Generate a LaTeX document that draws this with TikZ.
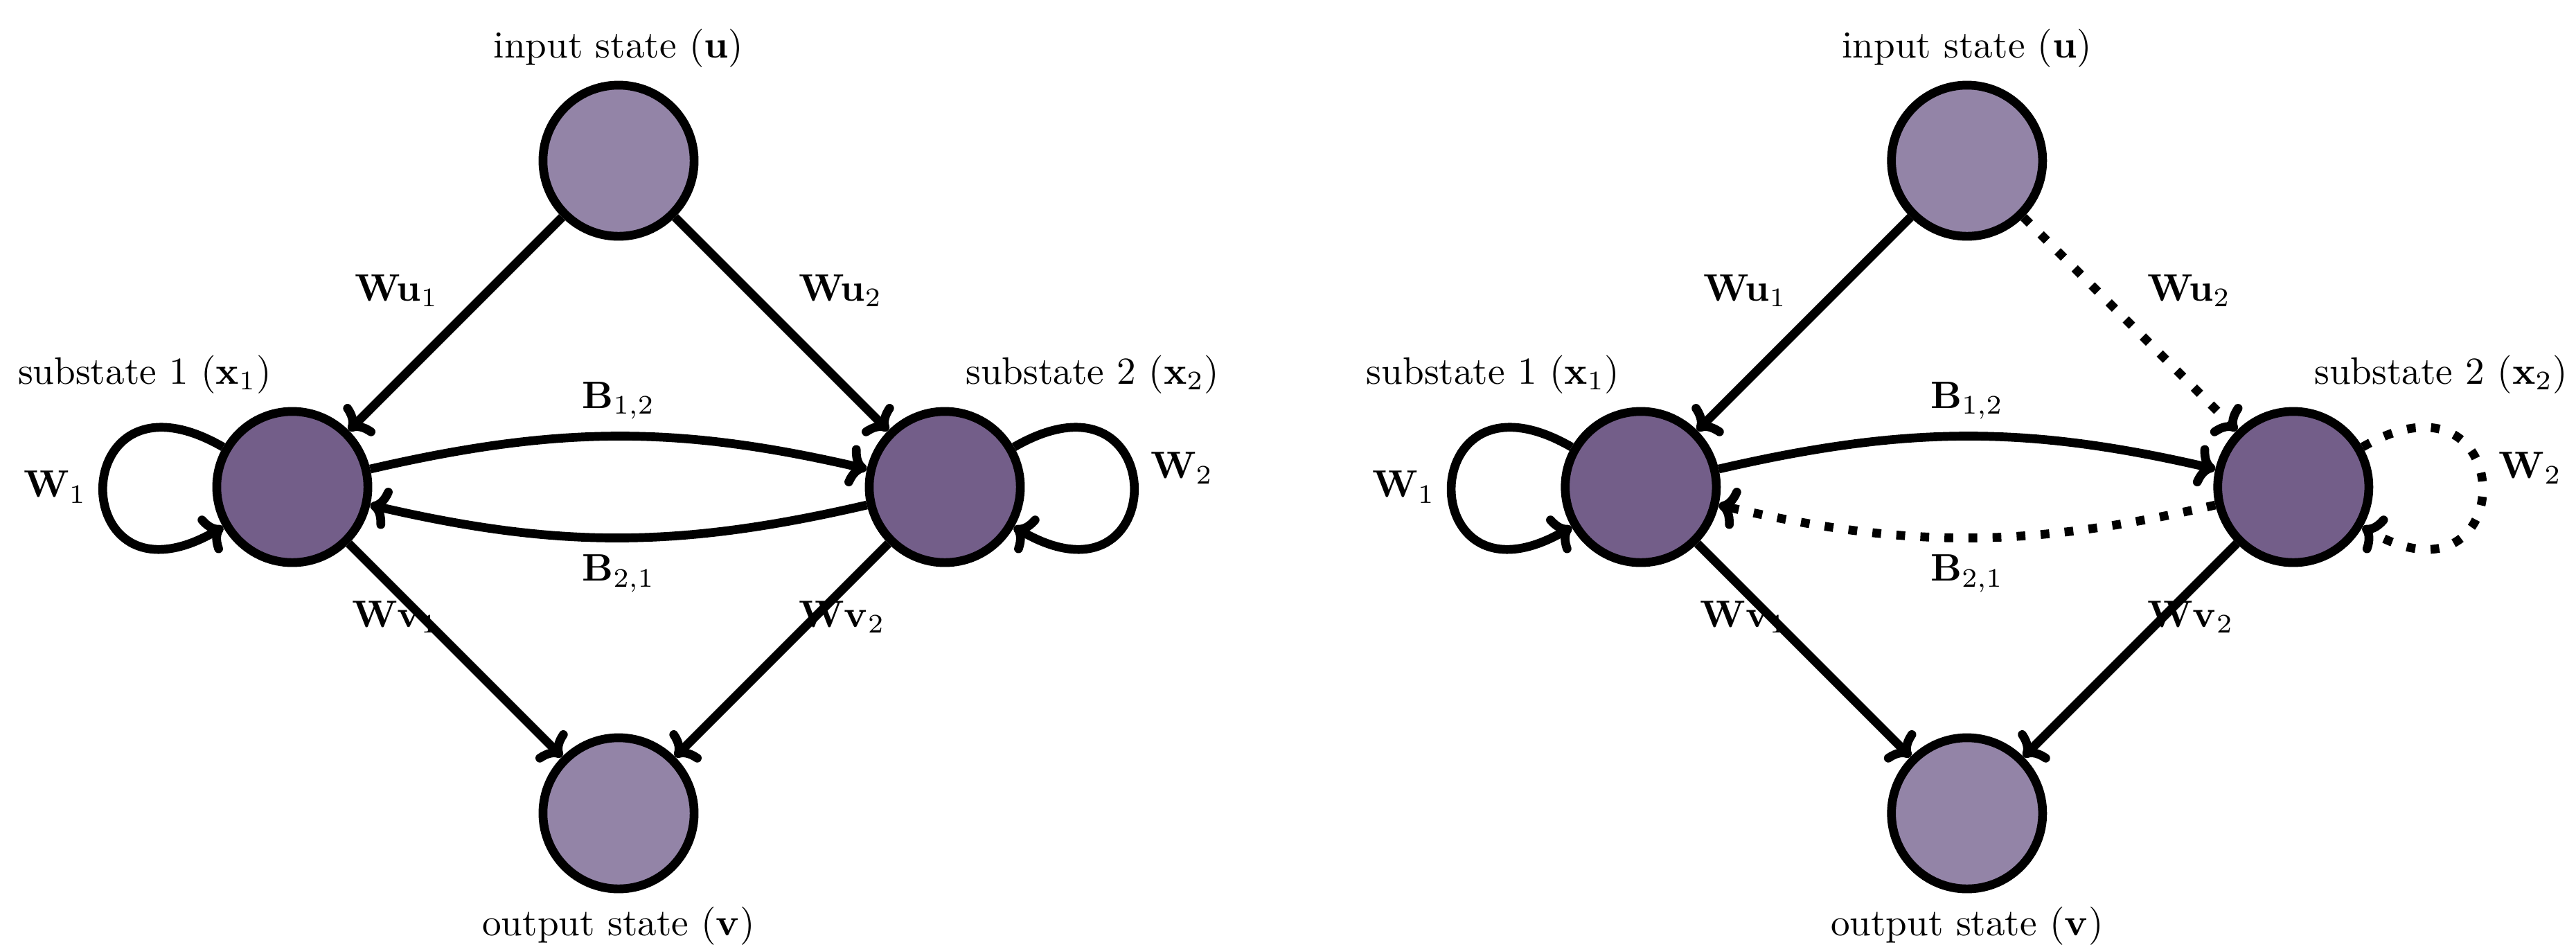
\documentclass[tikz,border=0pt]{standalone}
\usepackage{amsmath,amssymb}
\usepackage{tikz}
\usetikzlibrary{arrows.meta,positioning}

\definecolor{iofill}{HTML}{9384A7}
\definecolor{subfill}{HTML}{735E89}

\begin{document}
\begin{tikzpicture}[
    on grid,
    state/.style={circle, draw, line width=2.3pt, minimum size=1.39cm, inner sep=0pt},
    iostate/.style={state, fill=iofill},
    substate/.style={state, fill=subfill},
    arrow/.style={-{Computer Modern Rightarrow[length=5pt,width=11pt]}, line width=2.3pt},
    weak/.style={arrow, loosely dotted},
    every loop/.style={looseness=1, min distance=1.69cm},
    selfleft/.style={out=150, in=210, loop},
    selfright/.style={out=30, in=330, loop}
]
    \useasboundingbox (-2.688,-4.223) rectangle (21.0,4.478);

    % Left: all couplings
    \node[substate, label={[anchor=south east, xshift=-2pt]north:substate 1 ($\mathbf{x}_1$)}] (x1) {};
    \node[substate, right=6cm of x1, label={[anchor=south west, xshift=2pt]north:substate 2 ($\mathbf{x}_2$)}] (x2) {};
    \node[iostate, above right=3cm and 3cm of x1, label={above:input state ($\mathbf{u}$)}] (u) {};
    \node[iostate, below right=3cm and 3cm of x1, label={below:output state ($\mathbf{v}$)}] (v) {};

    \draw[arrow] (u) -- node[above left] {$\mathbf{Wu}_1$} (x1);
    \draw[arrow] (u) -- node[above right] {$\mathbf{Wu}_2$} (x2);
    \draw[arrow] (x1) -- node[above left] {$\mathbf{Wv}_1$} (v);
    \draw[arrow] (x2) -- node[above right] {$\mathbf{Wv}_2$} (v);
    \draw[arrow] (x1) to[bend left=13] node[above] {$\mathbf{B}_{1,2}$} (x2);
    \draw[arrow] (x2) to[bend left=13] node[below] {$\mathbf{B}_{2,1}$} (x1);
    \draw[arrow] (x1) to[selfleft] node[left] {$\mathbf{W}_1$} (x1);
    \draw[arrow] (x2) to[selfright] node[right, yshift=5pt] {$\mathbf{W}_2$} (x2);

    % Right: substate 2 cut off
    \node[substate, right=12.4cm of x1, label={[anchor=south east, xshift=-2pt]north:substate 1 ($\mathbf{x}_1$)}] (x1b) {};
    \node[substate, right=6cm of x1b, label={[anchor=south west, xshift=2pt]north:substate 2 ($\mathbf{x}_2$)}] (x2b) {};
    \node[iostate, above right=3cm and 3cm of x1b, label={above:input state ($\mathbf{u}$)}] (ub) {};
    \node[iostate, below right=3cm and 3cm of x1b, label={below:output state ($\mathbf{v}$)}] (vb) {};

    \draw[arrow] (ub) -- node[above left] {$\mathbf{Wu}_1$} (x1b);
    \draw[weak] (ub) -- node[above right] {$\mathbf{Wu}_2$} (x2b);
    \draw[arrow] (x1b) -- node[above left] {$\mathbf{Wv}_1$} (vb);
    \draw[arrow] (x2b) -- node[above right] {$\mathbf{Wv}_2$} (vb);
    \draw[arrow] (x1b) to[bend left=13] node[above] {$\mathbf{B}_{1,2}$} (x2b);
    \draw[weak] (x2b) to[bend left=13] node[below] {$\mathbf{B}_{2,1}$} (x1b);
    \draw[arrow] (x1b) to[selfleft] node[left] {$\mathbf{W}_1$} (x1b);
    \draw[weak] (x2b) to[selfright] node[right, yshift=5pt] {$\mathbf{W}_2$} (x2b);

\end{tikzpicture}
\end{document}
